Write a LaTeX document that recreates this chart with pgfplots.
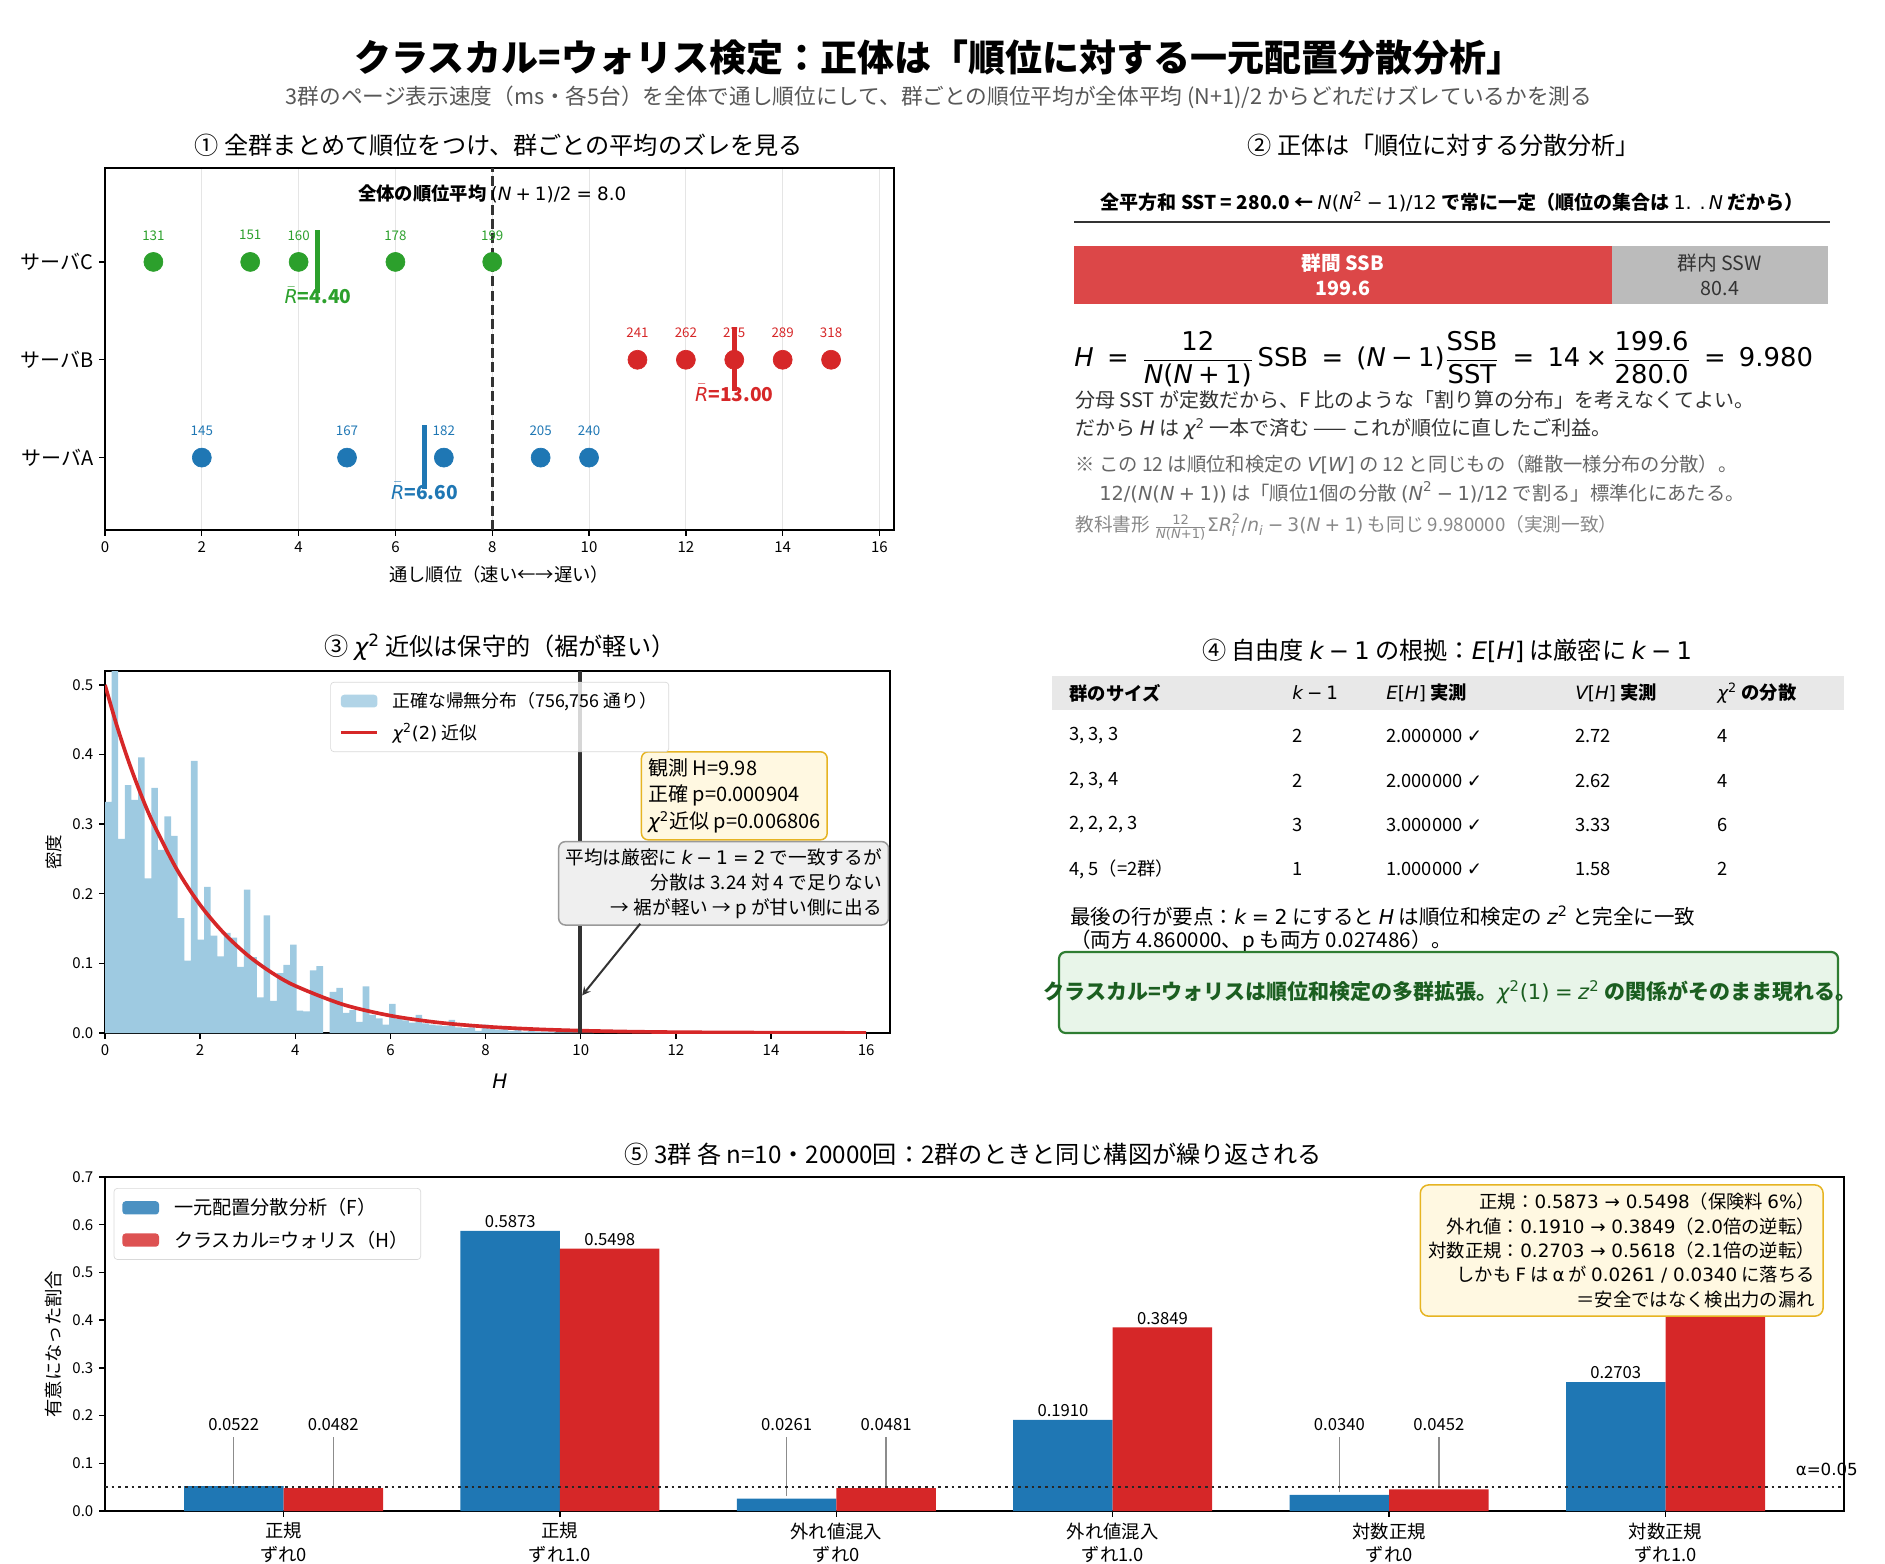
\documentclass[border=0pt]{standalone}
\usepackage{amsmath}
\usepackage{fontspec}
\usepackage{pgfplots}
\pgfplotsset{compat=1.18}
\setmainfont{Noto Sans CJK JP}
\newfontfamily\dv{DejaVu Sans}

\definecolor{tabblue}{HTML}{1F77B4}
\definecolor{tabred}{HTML}{D62728}
\definecolor{tabgreen}{HTML}{2CA02C}
\definecolor{histblue}{HTML}{9ECAE1}
\definecolor{ssbred}{HTML}{DC4748}
\definecolor{sswgray}{HTML}{BBBBBB}
\definecolor{noteyel}{HTML}{FFF8E1}
\definecolor{notebd}{HTML}{E6B422}
\definecolor{boxgray}{HTML}{EFEFEF}
\definecolor{darkgreen}{HTML}{1B5E20}
\definecolor{greenbd}{HTML}{2E7D32}
\definecolor{greenfill}{HTML}{E8F5E9}
\definecolor{txtdark}{HTML}{333333}
\definecolor{txtmid}{HTML}{666666}
\definecolor{txtlight}{HTML}{888888}

% math pieces in DejaVu Sans, like matplotlib mathtext
\newcommand\mv[1]{\text{\dv\mdseries\itshape #1}}
\newcommand\mt[1]{\text{\dv\mdseries #1}}
\newcommand\bop[1]{\mathbin{\mt{#1}}}
\newcommand\rel[1]{\mathrel{\mt{#1}}}

\pgfplotsset{
  common/.style={
    scale only axis,
    axis line style={black, line width=0.8pt},
    tick style={black, line width=0.8pt},
    major tick length=3.5pt,
    tick align=outside,
    tick pos=left,
    tick label style={font=\fontsize{9}{11}\selectfont},
    /pgf/number format/assume math mode=true,
  },
}

\begin{document}
\begin{tikzpicture}
\useasboundingbox (0,0) rectangle (1131pt,-938.4pt);

% ---------- 1: ranks ----------
\begin{axis}[common, at={(63pt,-100.8pt)}, anchor=north west,
  width=473.4pt, height=217.2pt, clip=false,
  xmin=0, xmax=16.3, ymin=-0.74, ymax=2.96,
  xtick={0,2,4,6,8,10,12,14,16}, ytick={0,1,2},
  yticklabels={サーバA,サーバB,サーバC},
  yticklabel style={font=\fontsize{12}{14}\selectfont},
  xmajorgrids, major grid style={black!10, line width=0.6pt}]
\addplot[only marks, mark=*, mark size=5.7pt, tabblue,
  nodes near coords, point meta=explicit symbolic,
  every node near coord/.append style={anchor=center, yshift=16pt,
    font=\fontsize{8}{9}\selectfont, text=tabblue}]
  table[meta=v] {
x y v
2 0 145
5 0 167
7 0 182
9 0 205
10 0 240
};
\addplot[only marks, mark=*, mark size=5.7pt, tabred,
  nodes near coords, point meta=explicit symbolic,
  every node near coord/.append style={anchor=center, yshift=16pt,
    font=\fontsize{8}{9}\selectfont, text=tabred}]
  table[meta=v] {
x y v
11 1 241
12 1 262
13 1 275
14 1 289
15 1 318
};
\addplot[only marks, mark=*, mark size=5.7pt, tabgreen,
  nodes near coords, point meta=explicit symbolic,
  every node near coord/.append style={anchor=center, yshift=16pt,
    font=\fontsize{8}{9}\selectfont, text=tabgreen}]
  table[meta=v] {
x y v
1 2 131
3 2 151
4 2 160
6 2 178
8 2 199
};
% group mean ranks
\addplot[tabblue, line width=3pt] coordinates {(6.6,-0.32) (6.6,0.33)};
\addplot[tabred, line width=3pt] coordinates {(13.0,0.68) (13.0,1.33)};
\addplot[tabgreen, line width=3pt] coordinates {(4.4,1.68) (4.4,2.33)};
\addplot[txtdark, line width=1.8pt, dash pattern=on 6pt off 2.6pt]
  coordinates {(8,-0.74) (8,2.96)};
\node[font=\fontsize{11.5}{13}\selectfont\bfseries, text=tabblue]
  at (axis cs:6.6,-0.34) {$\bar{\mv{R}}$=6.60};
\node[font=\fontsize{11.5}{13}\selectfont\bfseries, text=tabred]
  at (axis cs:13.0,0.66) {$\bar{\mv{R}}$=13.00};
\node[font=\fontsize{11.5}{13}\selectfont\bfseries, text=tabgreen]
  at (axis cs:4.4,1.66) {$\bar{\mv{R}}$=4.40};
\node[font=\fontsize{11}{13}\selectfont] at (axis cs:8,2.70)
  {\textbf{全体の順位平均} $\mt{(}\mv{N}\bop{+}\mt{1)/2}\rel{=}\mt{8.0}$};
\end{axis}

% ---------- 2: SSB / SSW split ----------
\begin{axis}[at={(644.4pt,-147.6pt)}, anchor=north west, scale only axis,
  width=452.4pt, height=34.8pt, hide axis,
  xmin=0, xmax=280, ymin=-0.5, ymax=0.5,
  xbar stacked, bar width=34.8pt]
\addplot[fill=ssbred, draw=none] coordinates {(199.6,0)};
\addplot[fill=sswgray, draw=none] coordinates {(80.4,0)};
\end{axis}

% ---------- 3: exact null vs chi2 ----------
\begin{axis}[common, at={(63pt,-402.6pt)}, anchor=north west,
  width=471pt, height=217.2pt,
  xmin=0, xmax=16.5, ymin=0, ymax=0.52,
  xtick={0,2,4,6,8,10,12,14,16}, ytick={0,0.1,0.2,0.3,0.4,0.5},
  yticklabel style={/pgf/number format/.cd, fixed, fixed zerofill, precision=1},
  legend cell align=left,
  legend style={at={(0.287,0.97)}, anchor=north west,
    draw=black!15, rounded corners=2pt, fill=white, fill opacity=0.8,
    text opacity=1, font=\fontsize{10.7}{13}\selectfont,
    inner xsep=5pt, inner ysep=4pt, row sep=4pt}]
\addplot[ybar interval, fill=histblue, draw=none,
  legend image code/.code={\fill[histblue] (0pt,-3.8pt) rectangle (22pt,3.8pt);
    \path (28pt,0pt);}]
  coordinates {
(0.0000,0.332) (0.1389,0.600) (0.2778,0.279) (0.4167,0.356) (0.5556,0.335)
(0.6944,0.396) (0.8333,0.222) (0.9722,0.352) (1.1111,0.263) (1.2500,0.311)
(1.3889,0.283) (1.5278,0.165) (1.6667,0.104) (1.8056,0.391) (1.9444,0.134)
(2.0833,0.210) (2.2222,0.140) (2.3611,0.110) (2.5000,0.144) (2.6389,0.137)
(2.7778,0.095) (2.9167,0.206) (3.0556,0.109) (3.1944,0.051) (3.3333,0.169)
(3.4722,0.046) (3.6111,0.086) (3.7500,0.098) (3.8889,0.127) (4.0278,0.032)
(4.1667,0.031) (4.3056,0.090) (4.4444,0.096) (4.5833,0.000) (4.7222,0.059)
(4.8611,0.065) (5.0000,0.029) (5.1389,0.033) (5.2778,0.016) (5.4167,0.067)
(5.5556,0.026) (5.6944,0.021) (5.8333,0.012) (5.9722,0.042) (6.1111,0.020)
(6.2500,0.018) (6.3889,0.015) (6.5278,0.026) (6.6667,0.014) (6.8056,0.012)
(6.9444,0.011) (7.0833,0.010) (7.2222,0.019) (7.3611,0.008) (7.5000,0.007)
(7.6389,0.008) (7.7778,0.003) (7.9167,0.012) (8.0556,0.006) (8.1944,0.005)
(8.3333,0.006) (8.4722,0.003) (8.6111,0.004) (8.7500,0.002) (8.8889,0.003)
(9.0278,0.002) (9.1667,0.002) (9.3056,0.002) (9.4444,0.001) (9.5833,0.001)
(9.7222,0.001) (9.8611,0.001) (10.0000,0.0005) (10.1389,0.0005) (10.2778,0)
};
\addlegendentry{正確な帰無分布（756,756 通り）}
\addplot[tabred, line width=2.2pt, smooth,
  legend image code/.code={\draw[tabred, line width=2.2pt] (0pt,0pt) -- (22pt,0pt);
    \path (28pt,0pt);}]
  coordinates {
(0,0.5000) (0.25,0.4412) (0.5,0.3894) (0.75,0.3436) (1,0.3033) (1.5,0.2362)
(2,0.1839) (2.5,0.1433) (3,0.1116) (3.5,0.0869) (4,0.0677) (5,0.0410)
(6,0.0249) (7,0.0151) (8,0.0092) (9,0.0056) (10,0.0034) (11,0.0020)
(12,0.0012) (13,0.0008) (14,0.0005) (15,0.0003) (16,0.0002)
};
\addlegendentry{$\mv{χ}^{\mt{2}}\mt{(2)}$ 近似}
\addplot[txtdark, line width=2.2pt, forget plot] coordinates {(9.98,0) (9.98,0.52)};
\node[anchor=north west, align=left, fill=noteyel, draw=notebd, line width=0.9pt,
  rounded corners=4pt, inner sep=4pt, font=\fontsize{12}{16}\selectfont]
  at (axis cs:11.26,0.405)
  {観測 H=9.98\\正確 p=0.000904\\$\mv{χ}^{\mt{2}}$近似 p=0.006806};
\node[anchor=north west, align=right, fill=boxgray, draw=black!40, line width=0.9pt,
  rounded corners=4pt, inner sep=4pt, font=\fontsize{11.2}{15}\selectfont]
  at (axis cs:9.52,0.276)
  {平均は厳密に $\mv{k}\bop{−}\mt{1}\rel{=}\mt{2}$ で一致するが\\分散は 3.24 対 4 で足りない\\→ 裾が軽い → p が甘い側に出る};
\draw[-stealth, txtdark, line width=1.2pt] (axis cs:11.25,0.157) -- (axis cs:10.03,0.054);
\end{axis}

% ---------- 5: power / size simulation ----------
\begin{axis}[common, at={(63pt,-706.2pt)}, anchor=north west,
  width=1043.4pt, height=200.4pt, clip=false,
  xmin=-0.646, xmax=5.646, ymin=0, ymax=0.7,
  xtick={0,1,2,3,4,5},
  xticklabels={{正規\\ずれ0},{正規\\ずれ1.0},{外れ値混入\\ずれ0},{外れ値混入\\ずれ1.0},{対数正規\\ずれ0},{対数正規\\ずれ1.0}},
  xticklabel style={align=center, font=\fontsize{11}{14}\selectfont},
  ytick={0,0.1,0.2,0.3,0.4,0.5,0.6,0.7},
  yticklabel style={/pgf/number format/.cd, fixed, fixed zerofill, precision=1},
  legend cell align=left,
  legend style={at={(0.005,0.967)}, anchor=north west,
    draw=black!15, rounded corners=2pt, fill=white, fill opacity=0.8,
    text opacity=1, font=\fontsize{11.5}{13}\selectfont,
    inner xsep=5pt, inner ysep=4pt, row sep=4pt}]
\addplot[ybar, bar width=0.36, bar shift=-0.18, fill=tabblue, draw=none,
  legend image code/.code={\fill[tabblue] (0pt,-4pt) rectangle (22pt,4pt);
    \path (29pt,0pt);}]
  table {
x y
0 0.0522
1 0.5873
2 0.0261
3 0.1910
4 0.0340
5 0.2703
};
\addlegendentry{一元配置分散分析（F）}
\addplot[ybar, bar width=0.36, bar shift=0.18, fill=tabred, draw=none,
  legend image code/.code={\fill[tabred] (0pt,-4pt) rectangle (22pt,4pt);
    \path (29pt,0pt);}]
  table {
x y
0 0.0482
1 0.5498
2 0.0481
3 0.3849
4 0.0452
5 0.5618
};
\addlegendentry{クラスカル=ウォリス（H）}
% value labels (small bars are labelled higher, with a leader line)
\addplot[draw=none, forget plot, nodes near coords, point meta=explicit symbolic,
  every node near coord/.append style={anchor=south, inner sep=1.5pt,
    font=\fontsize{10}{12}\selectfont, text=black}]
  table[x expr=\thisrow{x}-0.18, y=ly, meta=lab] {
x ly lab
0 0.163 0.0522
1 0.5873 0.5873
2 0.163 0.0261
3 0.1910 0.1910
4 0.163 0.0340
5 0.2703 0.2703
};
\addplot[draw=none, forget plot, nodes near coords, point meta=explicit symbolic,
  every node near coord/.append style={anchor=south, inner sep=1.5pt,
    font=\fontsize{10}{12}\selectfont, text=black}]
  table[x expr=\thisrow{x}+0.18, y=ly, meta=lab] {
x ly lab
0 0.163 0.0482
1 0.5498 0.5498
2 0.163 0.0481
3 0.3849 0.3849
4 0.163 0.0452
};
\draw[black!45, line width=0.8pt] (axis cs:-0.18,0.057) -- (axis cs:-0.18,0.156);
\draw[black!45, line width=0.8pt] (axis cs:0.18,0.053) -- (axis cs:0.18,0.156);
\draw[black!45, line width=0.8pt] (axis cs:1.82,0.031) -- (axis cs:1.82,0.156);
\draw[black!45, line width=0.8pt] (axis cs:2.18,0.053) -- (axis cs:2.18,0.156);
\draw[black!45, line width=0.8pt] (axis cs:3.82,0.039) -- (axis cs:3.82,0.156);
\draw[black!45, line width=0.8pt] (axis cs:4.18,0.050) -- (axis cs:4.18,0.156);
\addplot[black!85, line width=1.5pt, dash pattern=on 1.5pt off 2.5pt, forget plot]
  coordinates {(-0.646,0.05) (5.646,0.05)};
\node[anchor=west, font=\dv\fontsize{10}{12}\selectfont] at (axis cs:5.45,0.088) {α=0.05};
\node[anchor=north east, align=right, fill=noteyel, draw=notebd, line width=0.9pt,
  rounded corners=5pt, inner sep=5pt, font=\fontsize{11}{14.6}\selectfont]
  at (axis cs:5.573,0.685)
  {正規：{\dv 0.5873 → 0.5498}（保険料 {\dv 6\%}）\\
   外れ値：{\dv 0.1910 → 0.3849}（{\dv 2.0}倍の逆転）\\
   対数正規：{\dv 0.2703 → 0.5618}（{\dv 2.1}倍の逆転）\\
   しかも {\dv F} は {\dv α} が {\dv 0.0261 / 0.0340} に落ちる\\
   ＝安全ではなく検出力の漏れ};
\end{axis}

% ---------- free text ----------
\begin{scope}[x=0.6pt, y=-0.6pt]
\node[font=\fontsize{22.2}{26}\selectfont\bfseries] at (939,58)
  {クラスカル=ウォリス検定：正体は「順位に対する一元配置分散分析」};
\node[font=\fontsize{13}{15}\selectfont, text=txtmid!85!black] at (939,97)
  {3群のページ表示速度（ms・各5台）を全体で通し順位にして、群ごとの順位平均が全体平均 (N+1)/2 からどれだけズレているかを測る};

\node[font=\fontsize{14.5}{17}\selectfont] at (499,145)
  {① 全群まとめて順位をつけ、群ごとの平均のズレを見る};
\node[font=\fontsize{11}{13}\selectfont] at (499,575) {通し順位（速い←→遅い）};

\node[font=\fontsize{14.5}{17}\selectfont] at (1444,145) {② 正体は「順位に対する分散分析」};
\node[font=\fontsize{11.4}{13}\selectfont\bfseries] at (1452,202)
  {全平方和 SST = 280.0 ← $\mv{N}\mt{(}\mv{N}^{\mt{2}}\bop{−}\mt{1)/12}$ で常に一定（順位の集合は $\mt{1. .}\,\mv{N}$ だから）};
\draw[txtdark, line width=1.2pt] (1074,222) -- (1830,222);
\node[text=white, align=center, font=\fontsize{11.8}{15}\selectfont\bfseries]
  at (1342.8,275) {群間 SSB\\199.6};
\node[text=txtdark, align=center, font=\fontsize{11.8}{15}\selectfont]
  at (1719.8,275) {群内 SSW\\80.4};
\node[anchor=west, inner sep=0pt, font=\fontsize{15.5}{18}\selectfont] at (1074,359)
  {$\mv{H}\;\rel{=}\;\dfrac{\mt{12}}{\mv{N}\mt{(}\mv{N}\bop{+}\mt{1)}}\,\mt{SSB}\;\rel{=}\;\mt{(}\mv{N}\bop{−}\mt{1)}\dfrac{\mt{SSB}}{\mt{SST}}\;\rel{=}\;\mt{14}\bop{×}\dfrac{\mt{199.6}}{\mt{280.0}}\;\rel{=}\;\mt{9.980}$};
\node[anchor=west, inner sep=0pt, text=txtdark, font=\fontsize{12}{14}\selectfont] at (1075,400)
  {分母 SST が定数だから、F 比のような「割り算の分布」を考えなくてよい。};
\node[anchor=west, inner sep=0pt, text=txtdark, font=\fontsize{12}{14}\selectfont] at (1075,429)
  {だから $\mv{H}$ は $\mv{χ}^{\mt{2}}$ 一本で済む —— これが順位に直したご利益。};
\node[anchor=west, inner sep=0pt, text=txtmid, font=\fontsize{11.6}{13}\selectfont] at (1075,464)
  {※ この 12 は順位和検定の $\mv{V}\mt{[}\mv{W}\mt{]}$ の 12 と同じもの（離散一様分布の分散）。};
\node[anchor=west, inner sep=0pt, text=txtmid, font=\fontsize{11.6}{13}\selectfont] at (1099,492)
  {$\mt{12/(}\mv{N}\mt{(}\mv{N}\bop{+}\mt{1))}$ は「順位1個の分散 $\mt{(}\mv{N}^{\mt{2}}\bop{−}\mt{1)/12}$ で割る」標準化にあたる。};
\node[anchor=west, inner sep=0pt, text=txtlight, font=\fontsize{11.2}{13}\selectfont] at (1075,527)
  {教科書形 $\tfrac{\mt{12}}{\mv{N}\mt{(}\mv{N}\bop{+}\mt{1)}}\mt{Σ}\mv{R}_{\mv{i}}^{\mt{2}}\mt{/}\mv{n}_{\mv{i}}\bop{−}\mt{3(}\mv{N}\bop{+}\mt{1)}$ も同じ 9.980000（実測一致）};

\node[font=\fontsize{14.5}{17}\selectfont] at (500,647)
  {③ $\mv{χ}^{\mt{2}}$ 近似は保守的（裾が軽い）};
\node[font=\dv\itshape\fontsize{12}{14}\selectfont] at (500,1081) {H};
\node[rotate=90, font=\fontsize{10.5}{12}\selectfont] at (54,852) {密度};

\node[font=\fontsize{14.5}{17}\selectfont] at (1447,651)
  {④ 自由度 $\mv{k}\bop{−}\mt{1}$ の根拠：$\mv{E}\mt{[}\mv{H}\mt{]}$ は厳密に $\mv{k}\bop{−}\mt{1}$};
\fill[black!9] (1052,676) rectangle (1844,710);
\begin{scope}[every node/.style={anchor=west, inner sep=0pt, font=\fontsize{11}{13}\selectfont}]
\node at (1069,693) {\bfseries 群のサイズ};
\node at (1292,693) {$\mv{k}\bop{−}\mt{1}$};
\node at (1386,693) {$\mv{E}\mt{[}\mv{H}\mt{]}$ \bfseries 実測};
\node at (1575,693) {$\mv{V}\mt{[}\mv{H}\mt{]}$ \bfseries 実測};
\node at (1717,693) {$\mv{χ}^{\mt{2}}$ \bfseries の分散};
\node at (1069,736) {3, 3, 3};       \node at (1292,736) {2};
\node at (1386,736) {2.000000 {\dv ✓}}; \node at (1575,736) {2.72}; \node at (1717,736) {4};
\node at (1069,781) {2, 3, 4};       \node at (1292,781) {2};
\node at (1386,781) {2.000000 {\dv ✓}}; \node at (1575,781) {2.62}; \node at (1717,781) {4};
\node at (1069,825) {2, 2, 2, 3};    \node at (1292,825) {3};
\node at (1386,825) {3.000000 {\dv ✓}}; \node at (1575,825) {3.33}; \node at (1717,825) {6};
\node at (1069,869) {4, 5（=2群）};  \node at (1292,869) {1};
\node at (1386,869) {1.000000 {\dv ✓}}; \node at (1575,869) {1.58}; \node at (1717,869) {2};
\end{scope}
\begin{scope}[every node/.style={anchor=west, inner sep=0pt, font=\fontsize{12.3}{14}\selectfont}]
\node at (1070,916) {最後の行が要点：$\mv{k}\rel{=}\mt{2}$ にすると $\mv{H}$ は順位和検定の $\mv{z}^{\mt{2}}$ と完全に一致};
\node at (1070,941) {（両方 4.860000、p も両方 0.027486）。};
\end{scope}
\node[draw=greenbd, fill=greenfill, line width=1.3pt, rounded corners=4pt,
  minimum width=467.4pt, minimum height=48.6pt, inner sep=0pt] at (1448.5,992.5) {};
\node[text=darkgreen, font=\fontsize{12.6}{14}\selectfont\bfseries] at (1450,992)
  {クラスカル=ウォリスは順位和検定の多群拡張。$\mv{χ}^{\mt{2}}\mt{(1)}\rel{=}\mv{z}^{\mt{2}}$ の関係がそのまま現れる。};

\node[font=\fontsize{14.5}{17}\selectfont] at (973,1154)
  {⑤ 3群 各 n=10・20000回：2群のときと同じ構図が繰り返される};
\node[rotate=90, font=\fontsize{11}{13}\selectfont] at (54,1344) {有意になった割合};
\end{scope}
\end{tikzpicture}
\end{document}
